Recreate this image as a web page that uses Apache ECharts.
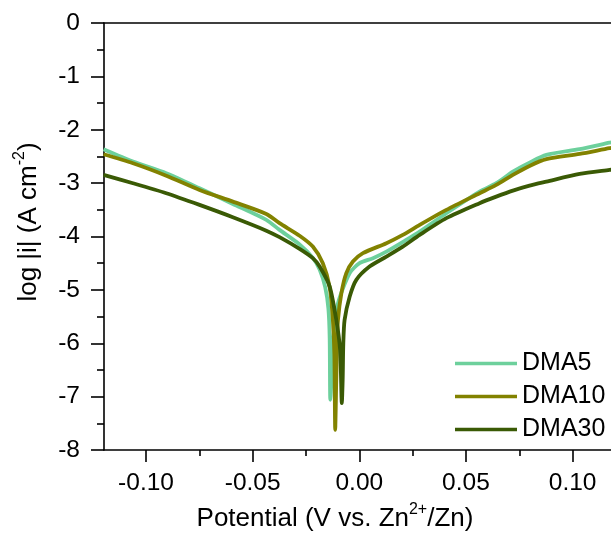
<!DOCTYPE html>
<html>
<head>
<meta charset="utf-8">
<script src="https://cdn.jsdelivr.net/npm/echarts@6/dist/echarts.min.js"></script>
<style>html,body{margin:0;padding:0;background:#fff}#c{width:611px;height:536px}</style>
</head>
<body>
<div id="c"></div>
<script>
// Potential (V vs. Zn2+/Zn) and log|i| values
const seriesNames = ['DMA5', 'DMA10', 'DMA30'];
const xMajorTicks = [-0.10, -0.05, 0.00, 0.05, 0.10];
const xMinorTicks = [-0.075, -0.025, 0.025, 0.075];

const dma5V = [-0.1199,-0.1061,-0.0905,-0.0749,-0.0593,-0.0436,-0.0374,-0.0280,-0.0218,-0.0186,-0.0160,-0.0145,-0.0139,-0.0136,
  -0.0128,-0.0122,-0.0100,-0.0045,0.0001,0.0064,0.0127,0.0220,0.0283,0.0408,0.0564,0.0642,0.0720,0.0798,0.0877,0.1033,0.1173,0.1200];
const dma5L = [-2.365,-2.597,-2.815,-3.096,-3.390,-3.689,-3.876,-4.148,-4.400,-4.620,-4.950,-5.350,-5.900,-7.060,
  -6.498,-5.900,-5.249,-4.687,-4.500,-4.406,-4.283,-4.064,-3.908,-3.564,-3.159,-3.002,-2.785,-2.616,-2.472,-2.365,-2.242,-2.220];

const dma10V = [-0.1199,-0.1061,-0.0905,-0.0749,-0.0593,-0.0436,-0.0374,-0.0280,-0.0218,-0.0171,-0.0139,-0.0124,-0.0117,-0.0113,
  -0.0108,-0.0104,-0.0100,-0.0084,-0.0061,-0.0030,0.0017,0.0127,0.0204,0.0283,0.0408,0.0564,0.0642,0.0720,0.0798,0.0877,0.1033,0.1173,0.1200];
const dma10L = [-2.459,-2.627,-2.860,-3.127,-3.346,-3.577,-3.751,-3.985,-4.189,-4.500,-4.950,-5.560,-6.200,-7.622,
  -6.685,-6.000,-5.562,-5.062,-4.687,-4.470,-4.313,-4.125,-3.970,-3.783,-3.502,-3.189,-3.034,-2.846,-2.678,-2.552,-2.453,-2.346,-2.330];

const dma30V = [-0.1199,-0.1061,-0.0905,-0.0749,-0.0593,-0.0436,-0.0374,-0.0280,-0.0218,-0.0186,-0.0139,-0.0108,-0.0090,-0.0082,
  -0.0078,-0.0075,-0.0069,-0.0045,-0.0014,0.0048,0.0127,0.0204,0.0283,0.0408,0.0564,0.0642,0.0720,0.0798,0.0877,0.1033,0.1173,0.1200];
const dma30L = [-2.846,-3.002,-3.189,-3.408,-3.639,-3.890,-4.013,-4.232,-4.406,-4.563,-4.938,-5.562,-6.124,-7.122,
  -6.685,-6.000,-5.562,-5.125,-4.813,-4.564,-4.376,-4.189,-3.970,-3.657,-3.376,-3.253,-3.140,-3.047,-2.972,-2.828,-2.753,-2.740];

const colors = ['#6dd09c', '#828200', '#3a5a05'];
const FONT = "'Liberation Sans', Arial, sans-serif";
const X_MIN = -0.1197, X_MAX = 0.1180;

function zip(a, b) { return a.map((v, i) => [v, b[i]]); }
const allData = [zip(dma5V, dma5L), zip(dma10V, dma10L), zip(dma30V, dma30L)];

const chart = echarts.init(document.getElementById('c'), null, {renderer: 'canvas'});
const axisLineStyle = {color: '#000', width: 1.6};

chart.setOption({
  animation: false,
  backgroundColor: '#fff',
  grid: {left: 104, right: 0, top: 23, bottom: 86, containLabel: false},
  xAxis: [
    {
      type: 'value', min: X_MIN, max: X_MAX, position: 'bottom',
      axisLine: {show: true, lineStyle: axisLineStyle, onZero: false},
      axisTick: {show: true, length: 12, lineStyle: axisLineStyle, customValues: xMajorTicks},
      axisLabel: {show: true, customValues: xMajorTicks, margin: 21, fontSize: 24.5, color: '#000', fontFamily: FONT,
        formatter: v => v.toFixed(2)},
      splitLine: {show: false}
    },
    {
      type: 'value', min: X_MIN, max: X_MAX, position: 'bottom',
      axisLine: {show: false, onZero: false},
      axisTick: {show: true, length: 6, lineStyle: axisLineStyle, customValues: xMinorTicks},
      axisLabel: {show: false},
      splitLine: {show: false}
    },
    {
      type: 'value', min: X_MIN, max: X_MAX, position: 'top',
      axisLine: {show: true, lineStyle: axisLineStyle, onZero: false},
      axisTick: {show: false}, axisLabel: {show: false}, splitLine: {show: false}
    }
  ],
  yAxis: {
    type: 'value', min: -8, max: 0, interval: 1,
    axisLine: {show: true, lineStyle: axisLineStyle, onZero: false},
    axisTick: {show: true, length: 13, lineStyle: axisLineStyle},
    minorTick: {show: true, splitNumber: 2, length: 7, lineStyle: axisLineStyle},
    axisLabel: {margin: 24, fontSize: 24.5, color: '#000', fontFamily: FONT},
    splitLine: {show: false}, minorSplitLine: {show: false}
  },
  legend: {
    orient: 'vertical', left: 450, top: 346,
    icon: 'rect', itemWidth: 62, itemHeight: 3.5, itemGap: 8,
    textStyle: {fontSize: 25, color: '#000', fontFamily: FONT, lineHeight: 25},
    data: seriesNames
  },
  series: seriesNames.map((n, i) => ({
    name: n, type: 'line', data: allData[i], showSymbol: false, symbol: 'none',
    smooth: 0.25, xAxisIndex: 0,
    lineStyle: {color: colors[i], width: 3.8}, itemStyle: {color: colors[i]}, clip: true
  })),
  graphic: [
    {
      type: 'text', x: 335, y: 517,
      style: {
        text: '{a|Potential (V vs. Zn}{s|2+}{a|/Zn)}',
        textAlign: 'center', textVerticalAlign: 'middle',
        rich: {
          a: {fontSize: 26, fontFamily: FONT, fill: '#000', color: '#000', lineHeight: 30, verticalAlign: 'bottom'},
          s: {fontSize: 16, fontFamily: FONT, fill: '#000', color: '#000', lineHeight: 30, verticalAlign: 'top'}
        }
      }
    },
    {
      type: 'text', x: 27, y: 222, rotation: Math.PI / 2,
      style: {
        text: '{a|log |i| (A cm}{s|-2}{a|)}',
        textAlign: 'center', textVerticalAlign: 'middle',
        rich: {
          a: {fontSize: 26, fontFamily: FONT, fill: '#000', color: '#000', lineHeight: 30, verticalAlign: 'bottom'},
          s: {fontSize: 16, fontFamily: FONT, fill: '#000', color: '#000', lineHeight: 30, verticalAlign: 'top'}
        }
      }
    }
  ]
});
</script>
</body>
</html>
